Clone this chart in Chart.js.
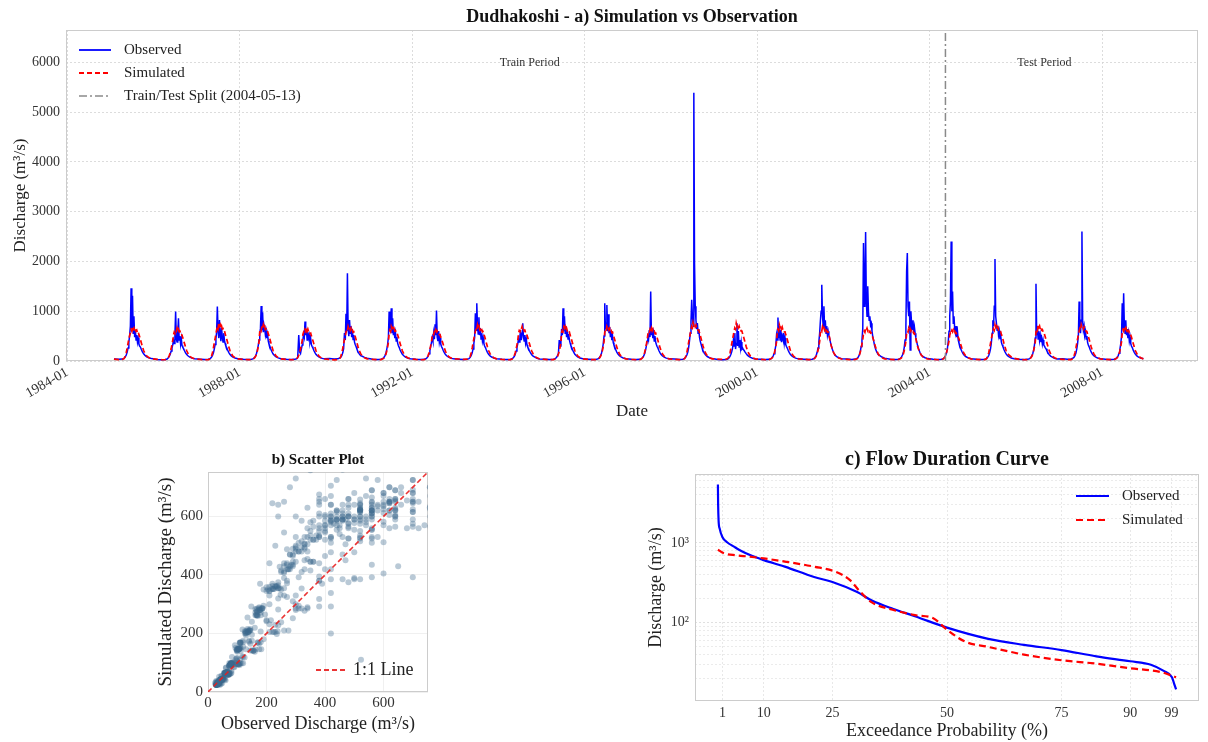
<!DOCTYPE html>
<html>
<head>
<meta charset="utf-8">
<title>Dudhakoshi - Simulation vs Observation</title>
<script src="https://cdn.jsdelivr.net/npm/chart.js@4.4.1/dist/chart.umd.min.js"></script>
<style>
  html, body { margin: 0; padding: 0; background: #fff; }
  #page { position: relative; width: 1208px; height: 742px; overflow: hidden; }
  .panel { position: absolute; }
  .panel canvas { display: block; }
</style>
</head>
<body>
<div id="page">
  <div class="panel" style="left:0;top:0;width:1208px;height:430px"><canvas id="tsChart" width="1208" height="430"></canvas></div>
  <div class="panel" style="left:140px;top:440px;width:300px;height:302px"><canvas id="scatterChart" width="300" height="302"></canvas></div>
  <div class="panel" style="left:630px;top:440px;width:578px;height:302px"><canvas id="fdcChart" width="578" height="302"></canvas></div>
</div>
<script>
// ---- data ----
// day-of-year at which each yearly sample was read
const sampleDays = [30, 70, 100, 115, 125, 134, 142, 149, 156, 163, 169, 175, 181, 187, 193, 199,
                    205, 211, 217, 223, 229, 235, 241, 247, 254, 262, 271, 281, 293, 307, 325, 348];
const years = [1985, 1986, 1987, 1988, 1989, 1990, 1991, 1992, 1993, 1994, 1995, 1996,
               1997, 1998, 1999, 2000, 2001, 2002, 2003, 2004, 2005, 2006, 2007, 2008];

// observed discharge (m3/s)
const obs1985 = [40, 33, 38, 52, 78, 120, 180, 260, 380, 520, 700, 1463, 640, 1309, 560, 900, 480, 620, 420, 520, 380, 460, 340, 300, 280, 230, 185, 145, 112, 85, 64, 48];
const obs1986 = [30, 26, 29, 40, 66, 98, 140, 200, 260, 330, 420, 350, 520, 993, 440, 380, 560, 860, 420, 500, 340, 450, 310, 280, 250, 205, 165, 128, 100, 78, 58, 44];
const obs1987 = [35, 29, 35, 50, 74, 110, 165, 240, 330, 450, 580, 1094, 620, 460, 825, 540, 400, 660, 480, 380, 560, 420, 350, 300, 270, 220, 175, 135, 104, 80, 60, 45];
const obs1988 = [35, 29, 34, 47, 70, 105, 155, 225, 310, 420, 540, 660, 1107, 620, 980, 580, 720, 640, 520, 600, 460, 540, 400, 340, 300, 240, 190, 145, 110, 84, 62, 46];
const obs1989 = [34, 28, 33, 45, 66, 523, 180, 150, 240, 320, 420, 540, 480, 792, 520, 640, 420, 580, 460, 520, 380, 450, 330, 290, 260, 210, 168, 130, 100, 78, 58, 43];
const obs1990 = [48, 40, 44, 60, 74, 112, 170, 250, 560, 420, 950, 600, 1765, 640, 500, 825, 560, 700, 480, 620, 430, 520, 380, 330, 290, 235, 186, 142, 108, 95, 72, 55];
const obs1991 = [36, 30, 35, 48, 71, 108, 160, 235, 330, 480, 993, 620, 700, 1060, 560, 860, 520, 640, 460, 560, 400, 480, 360, 310, 275, 222, 177, 137, 105, 80, 60, 45];
const obs1992 = [35, 29, 33, 45, 66, 98, 145, 210, 290, 380, 470, 400, 560, 440, 740, 520, 1013, 480, 400, 600, 380, 460, 340, 290, 260, 210, 168, 130, 100, 77, 57, 43];
const obs1993 = [36, 30, 35, 48, 72, 110, 165, 240, 350, 480, 960, 620, 1161, 700, 540, 880, 520, 660, 440, 560, 400, 470, 350, 300, 270, 220, 175, 135, 104, 80, 60, 45];
const obs1994 = [34, 28, 32, 44, 64, 95, 140, 200, 270, 350, 440, 380, 500, 620, 420, 560, 758, 480, 400, 520, 360, 440, 320, 280, 250, 200, 162, 126, 98, 76, 56, 42];
const obs1995 = [35, 29, 34, 47, 70, 104, 155, 420, 300, 380, 640, 520, 1060, 600, 900, 560, 700, 480, 620, 440, 540, 420, 360, 310, 275, 222, 177, 137, 105, 80, 60, 45];
const obs1996 = [36, 30, 35, 48, 72, 108, 162, 238, 340, 500, 1161, 640, 760, 1127, 600, 940, 560, 680, 480, 600, 420, 500, 370, 320, 280, 226, 180, 139, 106, 81, 61, 45];
const obs1997 = [35, 29, 33, 46, 68, 100, 150, 215, 300, 400, 520, 440, 620, 480, 1396, 520, 640, 460, 560, 400, 500, 380, 330, 290, 260, 210, 168, 130, 100, 77, 58, 43];
const obs1998 = [38, 32, 37, 52, 78, 120, 180, 270, 400, 560, 800, 1228, 900, 700, 5389, 1966, 1100, 820, 640, 760, 560, 640, 480, 400, 340, 270, 210, 160, 120, 90, 66, 48];
const obs1999 = [28, 24, 28, 38, 62, 92, 135, 190, 260, 420, 300, 560, 240, 350, 758, 300, 600, 280, 420, 260, 380, 240, 260, 230, 210, 178, 148, 118, 94, 73, 55, 42];
const obs2000 = [34, 28, 33, 45, 66, 98, 145, 210, 300, 520, 420, 872, 460, 700, 420, 620, 380, 500, 440, 560, 360, 460, 330, 290, 260, 210, 168, 130, 100, 77, 57, 43];
const obs2001 = [37, 31, 36, 50, 75, 115, 175, 260, 380, 560, 800, 1000, 1530, 900, 700, 1100, 640, 820, 560, 700, 520, 600, 520, 460, 380, 300, 230, 170, 117, 88, 65, 47];
const obs2002 = [38, 32, 38, 53, 80, 125, 190, 290, 420, 650, 2369, 1100, 1400, 2590, 1200, 900, 1500, 1000, 820, 900, 720, 760, 600, 500, 420, 320, 240, 180, 130, 110, 80, 58];
const obs2003 = [37, 31, 37, 51, 77, 120, 182, 275, 420, 700, 1800, 2168, 1100, 900, 1195, 220, 1000, 760, 640, 820, 560, 680, 560, 470, 390, 310, 240, 175, 120, 90, 66, 48];
const obs2004 = [36, 30, 35, 48, 72, 110, 170, 250, 380, 600, 900, 1200, 2403, 1000, 1396, 760, 900, 640, 560, 700, 480, 580, 420, 360, 310, 248, 195, 150, 112, 85, 62, 46];
const obs2005 = [36, 30, 35, 48, 72, 110, 168, 245, 360, 560, 820, 700, 1100, 2047, 900, 760, 620, 700, 520, 600, 440, 520, 380, 330, 290, 235, 186, 143, 108, 82, 61, 45];
const obs2006 = [35, 29, 33, 46, 68, 100, 150, 220, 320, 460, 1550, 520, 700, 440, 600, 420, 520, 380, 460, 340, 420, 320, 300, 270, 245, 200, 162, 126, 98, 76, 56, 42];
const obs2007 = [44, 36, 40, 55, 72, 108, 162, 240, 350, 520, 1195, 700, 560, 820, 2604, 800, 620, 700, 520, 580, 440, 500, 370, 320, 285, 230, 182, 140, 106, 81, 60, 45];
const obs2008 = [35, 29, 34, 47, 70, 104, 156, 230, 340, 500, 1161, 640, 1362, 700, 560, 820, 520, 640, 460, 560, 400, 480, 350, 300, 270, 218, 174, 135, 103, 79, 59, 44];

// simulated discharge (m3/s)
const sim1985 = [36, 28, 31, 48, 92, 170, 262, 355, 440, 515, 575, 630, 600, 690, 640, 665, 610, 650, 600, 620, 570, 590, 530, 490, 430, 360, 285, 210, 150, 100, 68, 44];
const sim1986 = [33, 25, 28, 42, 70, 115, 175, 245, 330, 420, 530, 580, 550, 620, 600, 660, 610, 640, 590, 600, 560, 570, 510, 470, 415, 350, 280, 205, 145, 96, 64, 42];
const sim1987 = [32, 25, 29, 46, 90, 170, 265, 365, 450, 540, 620, 690, 650, 760, 700, 730, 660, 700, 640, 650, 600, 610, 550, 500, 440, 370, 290, 215, 150, 98, 65, 43];
const sim1988 = [33, 26, 29, 44, 60, 95, 142, 205, 285, 385, 590, 640, 610, 700, 660, 725, 650, 690, 630, 640, 590, 600, 545, 505, 445, 375, 295, 215, 152, 100, 66, 44];
const sim1989 = [32, 25, 28, 42, 68, 110, 170, 240, 320, 410, 530, 580, 560, 630, 600, 660, 600, 640, 590, 600, 550, 560, 505, 465, 408, 344, 275, 200, 142, 94, 63, 41];
const sim1990 = [30, 24, 27, 40, 90, 168, 260, 350, 435, 510, 570, 625, 600, 690, 640, 670, 620, 660, 600, 620, 575, 585, 530, 490, 430, 360, 285, 210, 148, 98, 66, 43];
const sim1991 = [33, 26, 29, 44, 58, 92, 138, 198, 278, 375, 565, 620, 590, 690, 650, 670, 615, 650, 600, 610, 570, 575, 520, 480, 420, 352, 280, 205, 146, 97, 65, 43];
const sim1992 = [32, 25, 28, 41, 66, 108, 165, 232, 310, 395, 505, 550, 530, 590, 570, 624, 580, 600, 560, 570, 530, 530, 480, 445, 390, 330, 262, 193, 138, 92, 62, 41];
const sim1993 = [40, 32, 36, 55, 90, 168, 262, 355, 445, 525, 595, 650, 620, 725, 670, 700, 640, 680, 620, 630, 585, 590, 535, 495, 435, 362, 286, 210, 148, 98, 66, 43];
const sim1994 = [31, 24, 27, 41, 68, 112, 172, 242, 325, 415, 555, 610, 590, 660, 640, 690, 630, 660, 605, 615, 565, 570, 515, 470, 410, 345, 272, 200, 142, 94, 63, 41];
const sim1995 = [32, 25, 29, 44, 60, 94, 140, 200, 280, 380, 565, 620, 595, 680, 650, 690, 625, 660, 605, 615, 570, 580, 520, 480, 420, 352, 280, 205, 146, 97, 65, 43];
const sim1996 = [33, 26, 29, 45, 62, 98, 145, 208, 290, 390, 575, 630, 600, 690, 650, 675, 620, 655, 600, 612, 570, 578, 520, 480, 420, 352, 280, 205, 146, 97, 65, 43];
const sim1997 = [32, 25, 28, 43, 70, 115, 175, 245, 330, 420, 535, 585, 560, 630, 600, 658, 605, 640, 590, 600, 555, 560, 508, 470, 412, 346, 275, 202, 143, 95, 64, 42];
const sim1998 = [35, 27, 31, 47, 94, 175, 272, 372, 465, 555, 635, 700, 670, 772, 720, 750, 690, 720, 660, 670, 620, 620, 565, 520, 455, 380, 300, 220, 155, 102, 68, 44];
const sim1999 = [38, 31, 35, 52, 84, 160, 255, 350, 440, 525, 600, 665, 640, 758, 700, 730, 670, 700, 640, 650, 600, 600, 545, 500, 440, 370, 292, 214, 150, 99, 66, 43];
const sim2000 = [32, 25, 28, 43, 60, 95, 142, 205, 285, 385, 585, 640, 610, 725, 670, 700, 640, 680, 620, 630, 585, 585, 530, 490, 430, 360, 285, 208, 147, 97, 65, 43];
const sim2001 = [34, 27, 30, 46, 62, 98, 146, 210, 292, 392, 572, 625, 600, 690, 645, 670, 620, 658, 600, 615, 575, 582, 528, 470, 380, 300, 230, 168, 122, 86, 60, 40];
const sim2002 = [34, 27, 30, 46, 72, 118, 180, 252, 338, 430, 555, 600, 575, 650, 620, 658, 610, 640, 585, 600, 560, 565, 512, 478, 420, 354, 282, 207, 146, 97, 65, 43];
const sim2003 = [34, 27, 30, 46, 62, 98, 146, 210, 292, 392, 555, 600, 580, 658, 615, 645, 600, 635, 590, 595, 555, 560, 510, 450, 370, 295, 228, 166, 120, 85, 60, 40];
const sim2004 = [32, 25, 28, 43, 68, 110, 170, 238, 318, 405, 518, 565, 545, 610, 585, 624, 580, 600, 560, 565, 525, 530, 478, 445, 392, 332, 265, 196, 140, 93, 63, 42];
const sim2005 = [33, 26, 29, 45, 90, 168, 262, 355, 445, 525, 595, 650, 620, 725, 675, 700, 645, 680, 625, 635, 590, 590, 535, 495, 435, 362, 286, 210, 148, 120, 82, 55];
const sim2006 = [32, 25, 28, 43, 60, 95, 142, 205, 285, 385, 585, 645, 615, 725, 680, 705, 640, 675, 620, 630, 585, 585, 530, 488, 428, 358, 284, 208, 146, 97, 65, 43];
const sim2007 = [33, 26, 29, 45, 90, 168, 262, 355, 445, 525, 595, 650, 620, 725, 675, 700, 645, 680, 625, 635, 590, 590, 535, 495, 435, 362, 286, 210, 148, 98, 66, 43];
const sim2008 = [33, 26, 29, 44, 60, 95, 142, 205, 285, 385, 570, 625, 598, 691, 648, 672, 620, 655, 600, 612, 570, 578, 520, 480, 420, 352, 280, 205, 146, 97, 65, 43];

// train / test split (2004-05-13 as decimal year)
const splitText = 'Train/Test Split (2004-05-13)';
const splitYear = 2004 + 133 / 366;

// axis ticks
const tsTickYears = [1984, 1988, 1992, 1996, 2000, 2004, 2008];
const tsYTicks = [0, 1000, 2000, 3000, 4000, 5000, 6000];
const scatterTicks = [0, 200, 400, 600];
const fdcXTicks = [1, 10, 25, 50, 75, 90, 99];
const fdcYTicks = [20, 30, 40, 50, 60, 70, 80, 90, 100, 200, 300, 400, 500, 600, 700, 800, 900,
                   1000, 2000, 3000, 4000, 5000, 6000, 7000];

// flow duration curve (exceedance %, discharge)
const fdcObsProb = [0, 0.05, 0.15, 0.4, 1, 2, 3.5, 5, 7.4, 10, 14.6, 21, 25, 30.4, 33.6, 38.3, 43, 50, 59, 66.8, 75, 82.6, 90, 94.5, 97.3, 99.1, 99.6, 100];
const fdcObsVal  = [5400, 3000, 1900, 1500, 1180, 1020, 900, 800, 690, 610, 505, 375, 325, 243, 190, 149, 121, 87, 63, 53, 45.6, 38, 33, 29.9, 25, 20.8, 17.1, 14.7];
const fdcSimProb = [0, 1.2, 4, 6.7, 10, 14.6, 21, 25.7, 28.9, 30.8, 33.6, 38.3, 43, 47, 50, 54, 59, 66.8, 75, 82.6, 90, 96.9, 100];
const fdcSimVal  = [822, 747, 700, 676, 640, 585, 505, 435, 340, 254, 180, 145, 125, 114, 82, 58, 50, 40, 34, 30.8, 27, 24, 20.8];

// ---- build series ----
const obsYears = [obs1985, obs1986, obs1987, obs1988, obs1989, obs1990, obs1991, obs1992, obs1993, obs1994, obs1995, obs1996,
                  obs1997, obs1998, obs1999, obs2000, obs2001, obs2002, obs2003, obs2004, obs2005, obs2006, obs2007, obs2008];
const simYears = [sim1985, sim1986, sim1987, sim1988, sim1989, sim1990, sim1991, sim1992, sim1993, sim1994, sim1995, sim1996,
                  sim1997, sim1998, sim1999, sim2000, sim2001, sim2002, sim2003, sim2004, sim2005, sim2006, sim2007, sim2008];

const obsSeries = [];
const simSeries = [];
years.forEach((yr, i) => {
  sampleDays.forEach((d, j) => {
    const t = yr + d / 365;
    obsSeries.push({ x: t, y: obsYears[i][j] });
    simSeries.push({ x: t, y: simYears[i][j] });
  });
});
const scatterPoints = obsSeries.map((p, i) => ({ x: p.y, y: simSeries[i].y }));
const dataStart = obsSeries[0].x;
const dataEnd = obsSeries[obsSeries.length - 1].x;

const tsYMax = 6650;
const scatterMax = 752;

// ---- shared style ----
const SERIF = "'Liberation Serif', 'Times New Roman', 'DejaVu Serif', serif";
Chart.defaults.font.family = SERIF;
Chart.defaults.color = '#333';
const GRID = '#d4d4d4';

function framePlugin() {
  return {
    id: 'frame',
    beforeDatasetsDraw(chart) {
      const { ctx, chartArea: a } = chart;
      ctx.save();
      ctx.strokeStyle = '#cccccc';
      ctx.lineWidth = 1;
      ctx.strokeRect(a.left + 0.5, a.top + 0.5, a.width - 1, a.height - 1);
      ctx.restore();
    }
  };
}

function titlePlugin(text, size, gap) {
  return {
    id: 'panelTitle',
    afterDraw(chart) {
      const { ctx, chartArea: a } = chart;
      ctx.save();
      ctx.font = 'bold ' + size + 'px ' + SERIF;
      ctx.fillStyle = '#111';
      ctx.textAlign = 'center';
      ctx.textBaseline = 'middle';
      ctx.fillText(text, (a.left + a.right) / 2, a.top - gap);
      ctx.restore();
    }
  };
}

// legend drawn inside the plot area; left/top are offsets from the chart area corner
function legendPlugin(items, left, top, rowGap, sampleLen, textGap, size) {
  return {
    id: 'innerLegend',
    afterDraw(chart) {
      const { ctx, chartArea: a } = chart;
      ctx.save();
      ctx.font = size + 'px ' + SERIF;
      ctx.textBaseline = 'middle';
      items.forEach((it, i) => {
        const y = a.top + top + i * rowGap;
        const x = a.left + left;
        ctx.strokeStyle = it.color;
        ctx.lineWidth = it.width;
        ctx.setLineDash(it.dash || []);
        ctx.beginPath();
        ctx.moveTo(x, y);
        ctx.lineTo(x + sampleLen, y);
        ctx.stroke();
        ctx.setLineDash([]);
        ctx.fillStyle = '#222';
        ctx.fillText(it.label, x + sampleLen + textGap, y);
      });
      ctx.restore();
    }
  };
}

const periodPlugin = {
  id: 'periods',
  afterDatasetsDraw(chart) {
    const { ctx, scales } = chart;
    ctx.save();
    ctx.font = '12px ' + SERIF;
    ctx.fillStyle = '#333';
    ctx.textAlign = 'center';
    ctx.textBaseline = 'middle';
    const y = scales.y.getPixelForValue(6000);
    ctx.fillText('Train Period', scales.x.getPixelForValue((dataStart + splitYear) / 2), y);
    ctx.fillText('Test Period', scales.x.getPixelForValue((splitYear + dataEnd) / 2), y);
    ctx.restore();
  }
};

function gridOpts() {
  return { color: GRID, lineWidth: 0.8, drawTicks: false };
}

// ---- a) time series ----
new Chart(document.getElementById('tsChart'), {
  type: 'line',
  data: {
    datasets: [
      { label: 'Observed', data: obsSeries, borderColor: '#0000ff', borderWidth: 1.5, pointRadius: 0, tension: 0, order: 2 },
      { label: 'Simulated', data: simSeries, borderColor: '#ff0000', borderWidth: 1.7, borderDash: [5, 3], pointRadius: 0, tension: 0, order: 1 },
      { label: splitText, data: [{ x: splitYear, y: 0 }, { x: splitYear, y: tsYMax }], borderColor: '#8a8a8a', borderWidth: 1.5,
        borderDash: [8, 3, 2, 3], pointRadius: 0, order: 0 }
    ]
  },
  options: {
    responsive: false,
    animation: false,
    events: [],
    layout: { padding: { top: 30, right: 10, left: 0, bottom: 0 } },
    plugins: { legend: { display: false }, tooltip: { enabled: false } },
    scales: {
      x: {
        type: 'linear', min: 1983.97, max: 2010.22,
        afterBuildTicks: s => { s.ticks = tsTickYears.map(v => ({ value: v })); },
        afterFit: s => { s.height = 69; },
        ticks: { autoSkip: false, minRotation: 30, maxRotation: 30, padding: 3, font: { size: 14 }, callback: v => v + '-01' },
        grid: gridOpts(),
        border: { display: false, dash: [2, 2] },
        title: { display: true, text: 'Date', color: '#222', font: { size: 17 }, padding: { top: 0, bottom: 8 } }
      },
      y: {
        min: 0, max: tsYMax,
        afterBuildTicks: s => { s.ticks = tsYTicks.map(v => ({ value: v })); },
        afterFit: s => { s.width = 66; },
        ticks: { padding: 6, font: { size: 14 }, callback: v => String(v) },
        grid: gridOpts(),
        border: { display: false, dash: [2, 2] },
        title: { display: true, text: 'Discharge (m³/s)', color: '#222', font: { size: 17 }, padding: { top: 10, bottom: 0 } }
      }
    }
  },
  plugins: [
    framePlugin(),
    periodPlugin,
    titlePlugin('Dudhakoshi - a) Simulation vs Observation', 18, 13),
    legendPlugin([
      { label: 'Observed', color: '#0000ff', width: 1.8 },
      { label: 'Simulated', color: '#ff0000', width: 1.8, dash: [5, 3] },
      { label: splitText, color: '#8a8a8a', width: 1.6, dash: [8, 3, 2, 3] }
    ], 13, 20, 23, 32, 13, 15)
  ]
});

// ---- b) scatter ----
new Chart(document.getElementById('scatterChart'), {
  type: 'scatter',
  data: {
    datasets: [
      { data: scatterPoints, backgroundColor: 'rgba(62,104,140,0.36)', borderWidth: 0, pointRadius: 3, clip: 0, order: 1 },
      { type: 'line', data: [{ x: 0, y: 0 }, { x: scatterMax, y: scatterMax }], borderColor: 'rgba(232,30,30,0.9)',
        borderWidth: 1.6, borderDash: [5, 3], pointRadius: 0, order: 0 }
    ]
  },
  options: {
    responsive: false,
    animation: false,
    events: [],
    layout: { padding: { top: 32, right: 12, left: 0, bottom: 0 } },
    plugins: { legend: { display: false }, tooltip: { enabled: false } },
    scales: {
      x: {
        type: 'linear', min: 0, max: scatterMax,
        afterBuildTicks: s => { s.ticks = scatterTicks.map(v => ({ value: v })); },
        afterFit: s => { s.height = 50; },
        ticks: { padding: 2, font: { size: 15 }, maxRotation: 0 },
        grid: { color: '#ececec', lineWidth: 0.8, drawTicks: false },
        border: { display: false },
        title: { display: true, text: 'Observed Discharge (m³/s)', color: '#222', font: { size: 18 }, padding: { top: 0, bottom: 7 } }
      },
      y: {
        type: 'linear', min: 0, max: scatterMax,
        afterBuildTicks: s => { s.ticks = scatterTicks.map(v => ({ value: v })); },
        afterFit: s => { s.width = 68; },
        ticks: { padding: 5, font: { size: 15 } },
        grid: { color: '#ececec', lineWidth: 0.8, drawTicks: false },
        border: { display: false },
        title: { display: true, text: 'Simulated Discharge (m³/s)', color: '#222', font: { size: 19 }, padding: { top: 15, bottom: 0 } }
      }
    }
  },
  plugins: [
    framePlugin(),
    titlePlugin('b) Scatter Plot', 15, 12),
    legendPlugin([{ label: '1:1 Line', color: 'rgba(232,30,30,0.9)', width: 1.8, dash: [5, 3] }], 108, 198, 20, 31, 6, 18)
  ]
});

// ---- c) flow duration curve ----
new Chart(document.getElementById('fdcChart'), {
  type: 'line',
  data: {
    datasets: [
      { data: fdcObsProb.map((p, i) => ({ x: p, y: fdcObsVal[i] })), borderColor: '#0000ff', borderWidth: 2.2,
        pointRadius: 0, cubicInterpolationMode: 'monotone', order: 1 },
      { data: fdcSimProb.map((p, i) => ({ x: p, y: fdcSimVal[i] })), borderColor: '#ff0000', borderWidth: 2.2,
        borderDash: [7, 4], pointRadius: 0, cubicInterpolationMode: 'monotone', order: 0 }
    ]
  },
  options: {
    responsive: false,
    animation: false,
    events: [],
    layout: { padding: { top: 34, right: 9, left: 0, bottom: 0 } },
    plugins: { legend: { display: false }, tooltip: { enabled: false } },
    scales: {
      x: {
        type: 'linear', min: -5, max: 105,
        afterBuildTicks: s => { s.ticks = fdcXTicks.map(v => ({ value: v })); },
        afterFit: s => { s.height = 41; },
        ticks: { autoSkip: false, padding: 4, font: { size: 14 }, maxRotation: 0 },
        grid: { color: '#e2e2e2', lineWidth: 0.8, drawTicks: false },
        border: { display: false, dash: [2, 2] },
        title: { display: true, text: 'Exceedance Probability (%)', color: '#222', font: { size: 18 }, padding: { top: 0, bottom: 0 } }
      },
      y: {
        type: 'logarithmic', min: 10.5, max: 7300,
        afterBuildTicks: s => { s.ticks = fdcYTicks.map(v => ({ value: v })); },
        afterFit: s => { s.width = 65; },
        ticks: { autoSkip: false, padding: 6, font: { size: 14 },
                 callback: v => (v === 100 ? '10²' : v === 1000 ? '10³' : '') },
        grid: { color: ctx => ([100, 1000].includes(ctx.tick && ctx.tick.value) ? '#d8d8d8' : '#e6e6e6'), lineWidth: 0.8, drawTicks: false },
        border: { display: false, dash: [2, 2] },
        title: { display: true, text: 'Discharge (m³/s)', color: '#222', font: { size: 18 }, padding: { top: 15, bottom: 0 } }
      }
    }
  },
  plugins: [
    framePlugin(),
    titlePlugin('c) Flow Duration Curve', 20, 14),
    legendPlugin([
      { label: 'Observed', color: '#0000ff', width: 2.2 },
      { label: 'Simulated', color: '#ff0000', width: 2.2, dash: [7, 4] }
    ], 381, 22, 24, 33, 13, 15)
  ]
});
</script>
</body>
</html>
